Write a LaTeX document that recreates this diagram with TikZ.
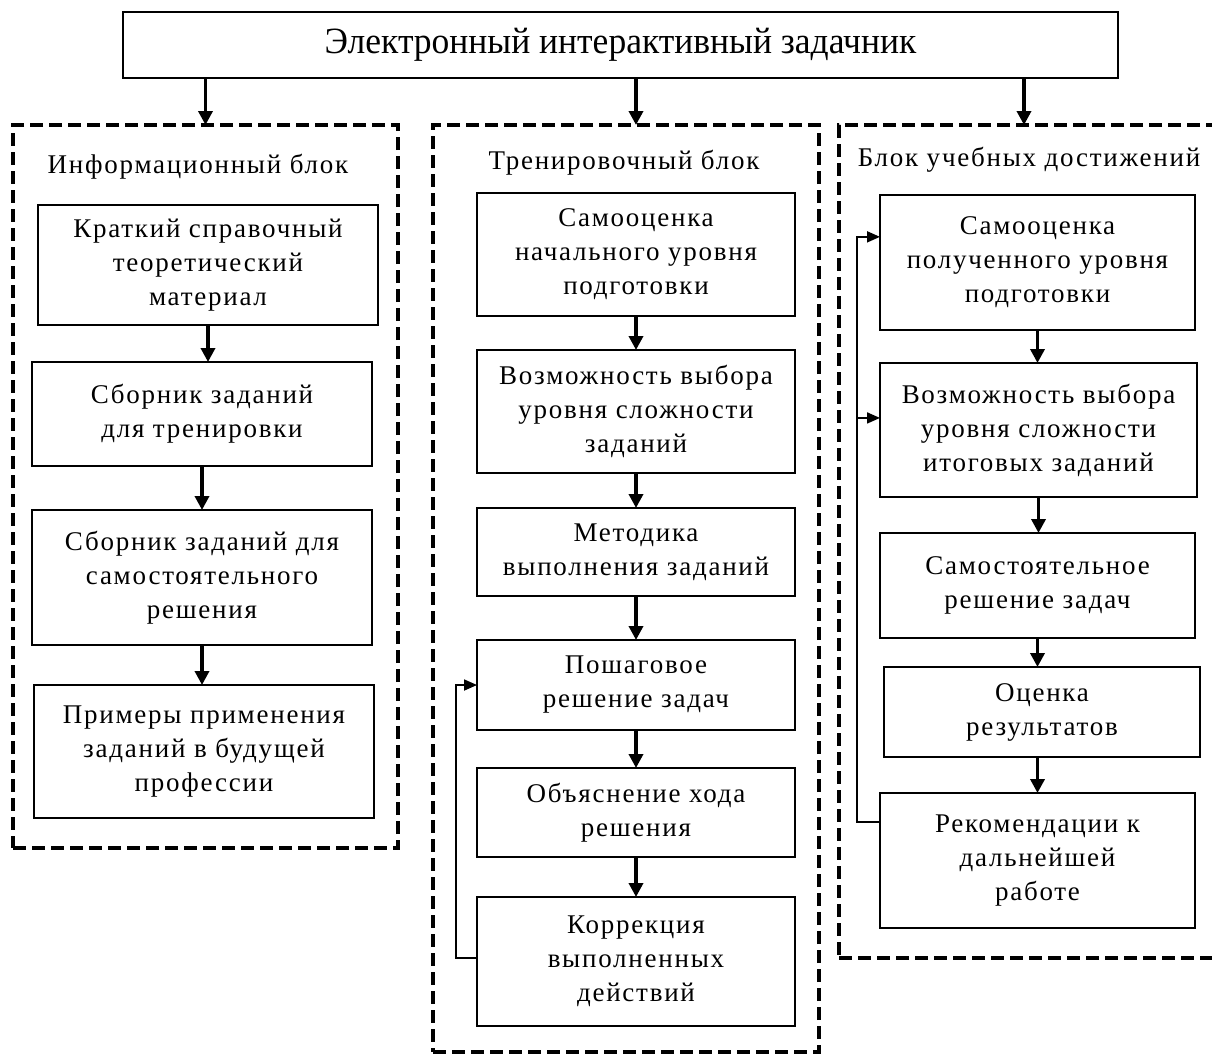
\documentclass[tikz,border=0pt]{standalone}
\usepackage{fontspec}
\setmainfont{Liberation Serif}[LetterSpace=6.5]
\newfontfamily\headfont{Liberation Serif}[FakeStretch=0.96]
\usetikzlibrary{arrows.meta,calc}

\tikzset{
  box/.style={draw, line width=2pt, align=center, inner sep=0pt, outer sep=0pt,
    font=\fontsize{27}{34}\selectfont},
  frame/.style={draw, line width=4pt, dash pattern=on 13pt off 6pt, inner sep=0pt, outer sep=0pt},
  blocktitle/.style={inner sep=0pt, font=\fontsize{27}{34}\selectfont},
  arr/.style={line width=3.5pt, -{Triangle[length=14pt,width=14pt]}},
  back/.style={line width=1.8pt, -{Triangle[length=13pt,width=11pt]}},
}

\begin{document}
\begin{tikzpicture}[x=1pt, y=-1pt]
\useasboundingbox (0,0) rectangle (1212,1053);
\clip (0,0) rectangle (1212,1053);

% top box
\node[box, minimum width=995pt, minimum height=66pt, font=\headfont\fontsize{37}{40}\selectfont]
  (top) at (620.5,45) {Электронный интерактивный задачник};

% block frames
\node[frame, minimum width=385pt, minimum height=723pt] (LF) at (205.5,486.5) {};
\node[frame, minimum width=386pt, minimum height=927pt] (MF) at (626,588.5) {};
\node[frame, minimum width=391pt, minimum height=833pt] (RF) at (1034.5,541.5) {};

\node[blocktitle] (LT) at (198,167) {Информационный блок};
\node[blocktitle] (MT) at (624,163) {Тренировочный блок};
\node[blocktitle] (RT) at (1029,160) {Блок учебных достижений};

% information block
\node[box, minimum width=340pt, minimum height=120pt] (L1) at (208,265)
  {Краткий справочный\\теоретический\\материал};
\node[box, minimum width=340pt, minimum height=104pt] (L2) at (202,414)
  {Сборник заданий\\для тренировки};
\node[box, minimum width=340pt, minimum height=135pt] (L3) at (202,577.5)
  {Сборник заданий для\\самостоятельного\\решения};
\node[box, minimum width=340pt, minimum height=133pt] (L4) at (204,751.5)
  {Примеры применения\\заданий в будущей\\профессии};

% training block
\node[box, minimum width=318pt, minimum height=123pt] (M1) at (636,254.5)
  {Самооценка\\начального уровня\\подготовки};
\node[box, minimum width=318pt, minimum height=123pt] (M2) at (636,411.5)
  {Возможность выбора\\уровня сложности\\заданий};
\node[box, minimum width=318pt, minimum height=88pt] (M3) at (636,552)
  {Методика\\выполнения заданий};
\node[box, minimum width=318pt, minimum height=90pt] (M4) at (636,685)
  {Пошаговое\\решение задач};
\node[box, minimum width=318pt, minimum height=89pt] (M5) at (636,812.5)
  {Объяснение хода\\решения};
\node[box, minimum width=318pt, minimum height=129pt] (M6) at (636,961.5)
  {Коррекция\\выполненных\\действий};

% achievements block
\node[box, minimum width=315pt, minimum height=135pt] (R1) at (1037.5,262.5)
  {Самооценка\\полученного уровня\\подготовки};
\node[box, minimum width=317pt, minimum height=134pt] (R2) at (1038.5,430)
  {Возможность выбора\\уровня сложности\\итоговых заданий};
\node[box, minimum width=315pt, minimum height=105pt] (R3) at (1037.5,585.5)
  {Самостоятельное\\решение задач};
\node[box, minimum width=316pt, minimum height=90pt] (R4) at (1042,712)
  {Оценка\\результатов};
\node[box, minimum width=315pt, minimum height=135pt] (R5) at (1037.5,860.5)
  {Рекомендации к\\дальнейшей\\работе};

% top-level arrows
\draw[arr] (top.south -| LF.north) -- (LF.north);
\draw[arr] (top.south -| M1.north) -- (M1.north |- MF.north);
\draw[arr] ([xshift=-13.5pt]top.south -| R1.north) -- ([xshift=-13.5pt]R1.north |- RF.north);

% chains
\draw[arr] (L1.south) -- (L1.south |- L2.north);
\draw[arr] (L2.south) -- (L2.south |- L3.north);
\draw[arr] (L3.south) -- (L3.south |- L4.north);

\draw[arr] (M1.south) -- (M2.north);
\draw[arr] (M2.south) -- (M3.north);
\draw[arr] (M3.south) -- (M4.north);
\draw[arr] (M4.south) -- (M5.north);
\draw[arr] (M5.south) -- (M6.north);

\draw[arr] (R1.south) -- (R1.south |- R2.north);
\draw[arr] (R2.south) -- (R2.south |- R3.north);
\draw[arr] (R3.south) -- (R3.south |- R4.north);
\draw[arr] (R4.south -| R3.south) -- (R3.south |- R5.north);

% feedback loops
\coordinate (mback) at ($(M6.north west)!0.47!(M6.south west)$);
\draw[back] (mback) -- ++(-21,0) |- (M4.west);

\coordinate (rback) at ($(R5.north west)!0.215!(R5.south west)$);
\coordinate (rin1) at ($(R1.north west)!0.31!(R1.south west)$);
\coordinate (rin2) at ($(R2.north west)!0.41!(R2.south west)$);
\draw[back] (rback) -- ++(-23,0) coordinate (rcorner) |- (rin1);
\draw[back] (rcorner |- rin2) -- (rin2);
\end{tikzpicture}
\end{document}
